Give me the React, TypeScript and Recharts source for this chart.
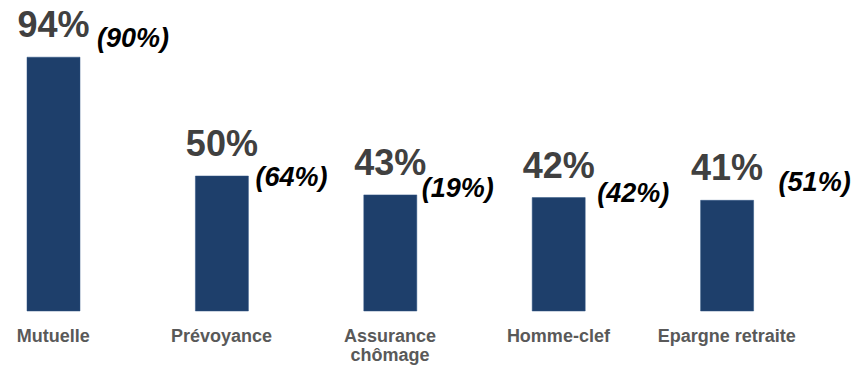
import { BarChart, Bar, XAxis, YAxis, LabelList, Text } from 'recharts';

const categories = ['Mutuelle', 'Prévoyance', 'Assurance chômage', 'Homme-clef', 'Epargne retraite'];
const current = [94, 50, 43, 42, 41];
const previous = [90, 64, 19, 42, 51];

// hand-placed offsets for the "(xx%)" notes, relative to bar right edge / bar top
const noteOffsets = [
  [17, -10],
  [7, 10],
  [5, 2],
  [12, 4],
  [25, -9],
];

const FONT = '"Liberation Sans", Arial, sans-serif';

const data = categories.map((name, i) => ({ name, value: current[i], prev: previous[i] }));

function CategoryTick(props: any) {
  const { x, y, payload } = props;
  const style = { fontSize: 18, fontWeight: 'bold', fontFamily: FONT };
  return (
    <Text
      x={x}
      y={y + 18}
      width={150}
      textAnchor="middle"
      verticalAnchor="start"
      lineHeight={19}
      fill="#595959"
      style={style}
    >
      {payload.value}
    </Text>
  );
}

function ValueLabel(props: any) {
  const { x, y, width, value } = props;
  return (
    <text
      x={x + width / 2}
      y={y - 20}
      textAnchor="middle"
      fill="#404040"
      style={{ fontSize: 36, fontWeight: 'bold', fontFamily: FONT }}
    >
      {value}%
    </text>
  );
}

function PrevLabel(props: any) {
  const { x, y, width, value, index } = props;
  const [dx, dy] = noteOffsets[index] ?? [10, 0];
  return (
    <text
      x={x + width + dx}
      y={y + dy}
      textAnchor="start"
      fill="#000000"
      style={{ fontSize: 27, fontWeight: 'bold', fontStyle: 'italic', fontFamily: FONT }}
    >
      ({value}%)
    </text>
  );
}

export default function App() {
  return (
    <div style={{ position: 'absolute', left: -31, top: 0 }}>
      <BarChart
        width={883}
        height={365}
        data={data}
        margin={{ top: 41, right: 41, bottom: 0, left: 0 }}
        style={{ overflow: 'visible' }}
      >
        <XAxis
          dataKey="name"
          axisLine={false}
          tickLine={false}
          tickSize={0}
          tickMargin={0}
          height={54}
          interval={0}
          tick={<CategoryTick />}
        />
        <YAxis hide domain={[0, 100]} />
        <Bar dataKey="value" fill="#1e3f6b" stroke="#2d5283" strokeWidth={0.5} barSize={53} isAnimationActive={false}>
          <LabelList dataKey="value" content={<ValueLabel />} />
          <LabelList dataKey="prev" content={<PrevLabel />} />
        </Bar>
      </BarChart>
    </div>
  );
}
